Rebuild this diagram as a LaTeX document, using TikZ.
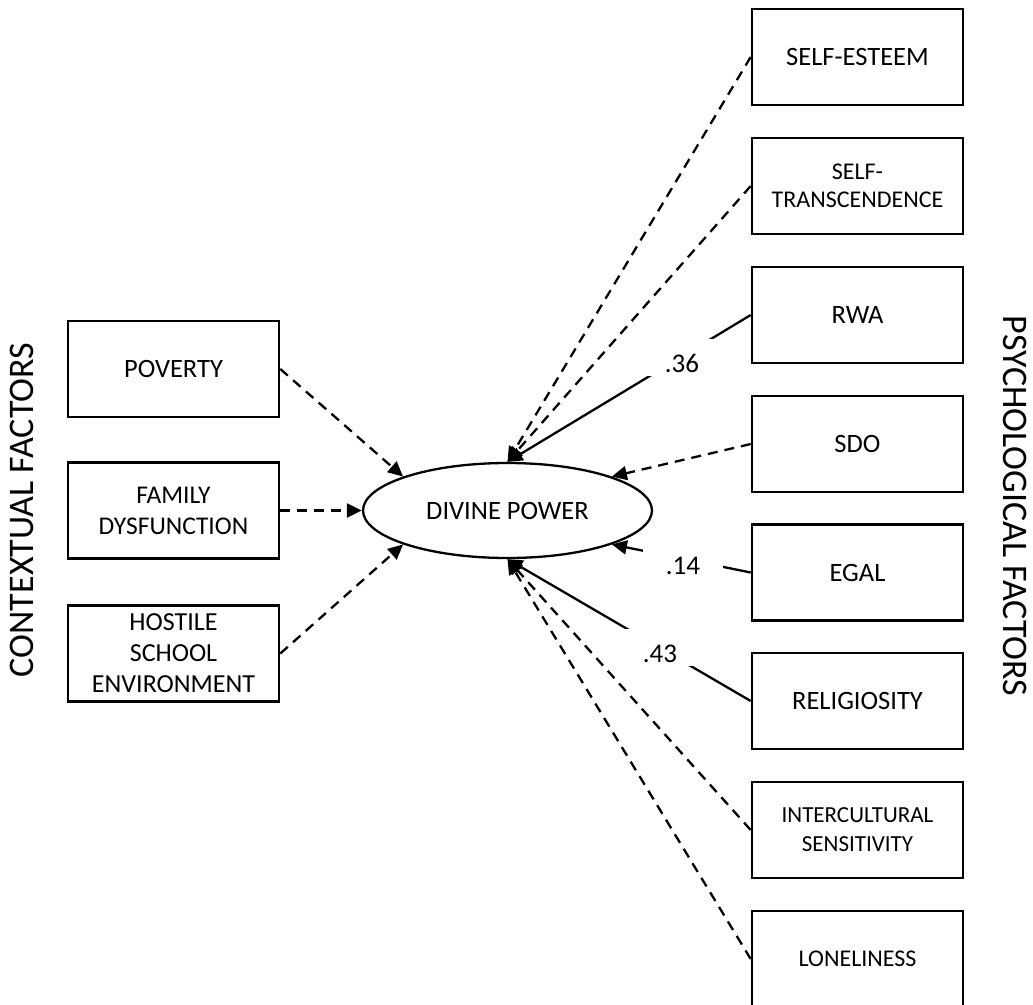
\documentclass[tikz,border=0pt]{standalone}
\usepackage{fontspec}
\setmainfont{Carlito}
\usetikzlibrary{arrows.meta,shapes.geometric}
\tikzset{
  box/.style={draw, line width=2.6pt, minimum width=211pt, minimum height=96pt, inner sep=0pt, align=center, font=\fontsize{26.5}{31}\selectfont},
  smallbox/.style={box, font=\fontsize{24}{28}\selectfont},
  conn/.style={line width=2.3pt, -{Triangle[length=15pt,width=14pt]}},
  dsh/.style={conn, dash pattern=on 10pt off 7pt},
  coef/.style={fill=white, inner xsep=23pt, inner ysep=1pt, text height=33pt, text depth=2pt, font=\fontsize{27}{31}\selectfont},
  side/.style={font=\fontsize{36}{40}\selectfont, inner sep=0pt}
}
\begin{document}
\begin{tikzpicture}[x=1pt, y=-1pt]
\useasboundingbox (0,0) rectangle (1033,1004);
% side labels
\node[side, rotate=90] (ctx) at (21.5,510) {CONTEXTUAL FACTORS};
\node[side, rotate=-90] (psy) at (1015,506) {PSYCHOLOGICAL FACTORS};
% central latent variable
\node[ellipse, draw, line width=2.3pt, minimum width=289pt, minimum height=95pt, inner sep=0pt, font=\fontsize{26.5}{31}\selectfont] (dp) at (507.5,510.5) {DIVINE POWER};
% contextual factors
\node[box] (pov) at (173.5,369) {POVERTY};
\node[box, font=\fontsize{25.5}{31}\selectfont] (fam) at (173.5,510.5) {FAMILY\\DYSFUNCTION};
\node[box, font=\fontsize{26}{31}\selectfont] (hos) at (173.5,653.5) {HOSTILE\\SCHOOL\\ENVIRONMENT};
% psychological factors
\node[box] (se) at (857.5,57) {SELF-ESTEEM};
\node[smallbox] (st) at (857.5,186) {SELF-\\TRANSCENDENCE};
\node[box] (rwa) at (857.5,315) {RWA};
\node[box] (sdo) at (857.5,444) {SDO};
\node[box] (egal) at (857.5,572.5) {EGAL};
\node[box] (rel) at (857.5,701) {RELIGIOSITY};
\node[smallbox, font=\fontsize{23}{29}\selectfont] (ic) at (857.5,830) {INTERCULTURAL\\SENSITIVITY};
\node[smallbox] (lon) at (857.5,959) {LONELINESS};
% connectors
\draw[dsh] (pov.east) -- (dp.162);
\draw[dsh] (fam.east) -- (dp.west);
\draw[dsh] (hos.east) -- (dp.198);
\draw[dsh] (se.west) -- (dp.north);
\draw[dsh] (st.west) -- (dp.north);
\draw[conn] (rwa.west) -- (dp.north);
\draw[dsh] (sdo.west) -- (dp.18);
\draw[conn] (egal.west) -- (dp.342);
\draw[conn] (rel.west) -- (dp.south);
\draw[dsh] (ic.west) -- (dp.south);
\draw[dsh] (lon.west) -- (dp.south);
% coefficients
\node[coef] (c36) at (682,357.2) {.36};
\node[coef] (c14) at (683,558.7) {.14};
\node[coef] (c43) at (660,647.2) {.43};
\end{tikzpicture}
\end{document}
